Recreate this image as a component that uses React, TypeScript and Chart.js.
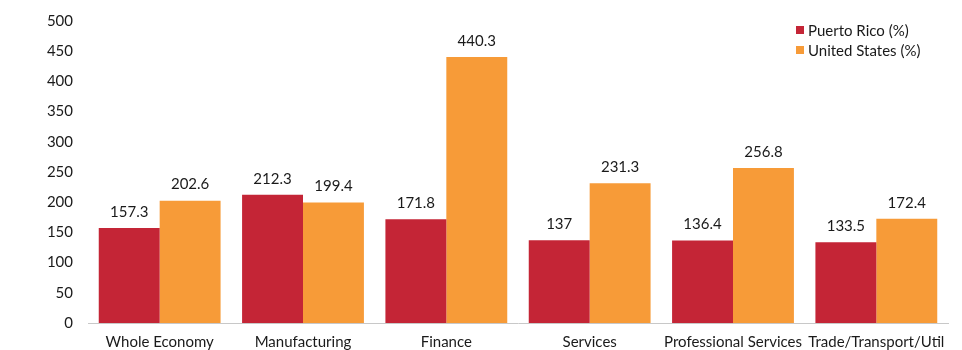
import React, { useEffect, useRef } from "react";
import { Chart, registerables } from "chart.js";

Chart.register(...registerables);

const categories = [
  "Whole Economy",
  "Manufacturing",
  "Finance",
  "Services",
  "Professional Services",
  "Trade/Transport/Util",
];
const puertoRico = [157.3, 212.3, 171.8, 137, 136.4, 133.5];
const unitedStates = [202.6, 199.4, 440.3, 231.3, 256.8, 172.4];
const seriesNames = ["Puerto Rico (%)", "United States (%)"];
const seriesColors = ["#C42536", "#F79B38"];
const yTicks = [0, 50, 100, 150, 200, 250, 300, 350, 400, 450, 500];

const FONT = "Lato, 'Open Sans', sans-serif";
const TEXT = "#1a1a1a";

// Value labels drawn above each bar
const barLabels = {
  id: "barLabels",
  afterDatasetsDraw(chart: any) {
    const ctx = chart.ctx;
    ctx.save();
    ctx.font = `15px ${FONT}`;
    ctx.fillStyle = TEXT;
    ctx.textAlign = "center";
    ctx.textBaseline = "middle";
    chart.data.datasets.forEach((ds: any, i: number) => {
      const meta = chart.getDatasetMeta(i);
      meta.data.forEach((bar: any, j: number) => {
        ctx.fillText(String(ds.data[j]), bar.x, bar.y - 16);
      });
    });
    ctx.restore();
  },
};

// Stacked legend in the upper right corner
const cornerLegend = {
  id: "cornerLegend",
  afterDraw(chart: any) {
    const ctx = chart.ctx;
    ctx.save();
    ctx.font = `15px ${FONT}`;
    ctx.textBaseline = "middle";
    ctx.textAlign = "left";
    chart.data.datasets.forEach((ds: any, i: number) => {
      const y = 30 + i * 20;
      ctx.fillStyle = ds.backgroundColor;
      ctx.fillRect(796, y - 4, 8, 8);
      ctx.fillStyle = TEXT;
      ctx.fillText(ds.label, 808, y + 1);
    });
    ctx.restore();
  },
};

export default function App() {
  const ref = useRef<HTMLCanvasElement>(null);

  useEffect(() => {
    document.body.style.margin = "0";
    if (!ref.current) return;
    const chart = new Chart(ref.current, {
      type: "bar",
      data: {
        labels: categories,
        datasets: [
          { label: seriesNames[0], data: puertoRico, backgroundColor: seriesColors[0] },
          { label: seriesNames[1], data: unitedStates, backgroundColor: seriesColors[1] },
        ],
      },
      options: {
        animation: false,
        responsive: false,
        datasets: { bar: { categoryPercentage: 0.85, barPercentage: 1 } },
        layout: { padding: { top: 21, right: 14, bottom: 0, left: 0 } },
        plugins: {
          legend: { display: false },
          tooltip: { enabled: false },
        },
        scales: {
          x: {
            afterFit(scale: any) {
              scale.height = 27;
            },
            grid: { display: false, drawTicks: false },
            border: { display: true, color: "#c8c8c8", width: 1 },
            ticks: {
              color: TEXT,
              font: { family: FONT, size: 15 },
              padding: 10,
              maxRotation: 0,
              autoSkip: false,
            },
          },
          y: {
            min: 0,
            max: 500,
            afterBuildTicks(scale: any) {
              scale.ticks = yTicks.map((v) => ({ value: v }));
            },
            afterFit(scale: any) {
              scale.width = 88;
              scale.paddingTop = 0;
              scale.paddingBottom = 0;
            },
            grid: { display: false, drawTicks: false },
            border: { display: false },
            ticks: {
              color: TEXT,
              font: { family: FONT, size: 15 },
              padding: 15,
            },
          },
        },
      },
      plugins: [barLabels, cornerLegend],
    });
    return () => chart.destroy();
  }, []);

  return (
    <div style={{ width: 962, height: 350 }}>
      <canvas ref={ref} width={962} height={350} />
    </div>
  );
}
